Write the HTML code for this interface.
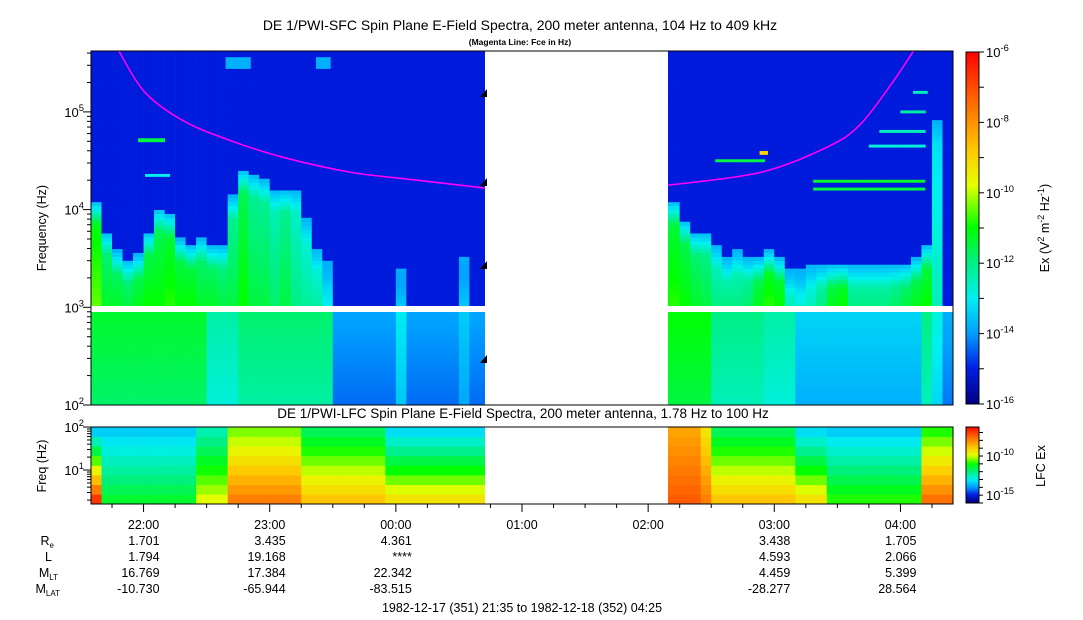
<!DOCTYPE html>
<html><head><meta charset="utf-8">
<style>
html,body{margin:0;padding:0;background:#fff;}
svg{display:block;font-family:"Liberation Sans",Arial,sans-serif;}
</style></head>
<body>
<svg id="chart" width="1083" height="620" viewBox="0 0 1083 620" xmlns="http://www.w3.org/2000/svg">
<defs>
<clipPath id="dataClip"><rect x="91" y="51" width="394" height="354"/><rect x="668" y="51" width="285" height="354"/></clipPath>
<clipPath id="lfcClip"><rect x="91" y="427" width="394" height="77"/><rect x="668" y="427" width="285" height="77"/></clipPath>
<clipPath id="panelClip"><rect x="91" y="51" width="862" height="254"/></clipPath>
</defs>
<text x="520" y="30" font-size="14" text-anchor="middle">DE 1/PWI-SFC  Spin Plane E-Field Spectra, 200 meter antenna, 104 Hz to 409 kHz</text>
<text x="520" y="45" font-size="8.5" font-weight="bold" text-anchor="middle">(Magenta Line: Fce in Hz)</text>
<text x="523" y="418" font-size="13.5" text-anchor="middle">DE 1/PWI-LFC  Spin Plane E-Field Spectra, 200 meter antenna, 1.78 Hz to 100 Hz</text>
<g id="sfcCells" clip-path="url(#dataClip)"></g>
<g id="lfcCells" clip-path="url(#lfcClip)"></g>
<rect x="91" y="306" width="862" height="6" fill="#fff"/>
<path id="fceLine" fill="none" stroke="#ff00ff" stroke-width="1.6" clip-path="url(#panelClip)"/>
<g id="markers"></g>
<rect x="91" y="51" width="862" height="354" fill="none" stroke="#000" stroke-width="1"/>
<rect x="91" y="427" width="862" height="77" fill="none" stroke="#000" stroke-width="1"/>
<g id="axes" font-size="13"></g>
<text transform="translate(46,228) rotate(-90)" font-size="12.5" text-anchor="middle">Frequency (Hz)</text>
<text transform="translate(46,466) rotate(-90)" font-size="12.5" text-anchor="middle">Freq (Hz)</text>
<g id="cbar"></g>
<text transform="translate(1049,228) rotate(-90)" font-size="12.5" text-anchor="middle">Ex (V<tspan dy="-5" font-size="9">2</tspan><tspan dy="5"> m</tspan><tspan dy="-5" font-size="9">-2</tspan><tspan dy="5"> Hz</tspan><tspan dy="-5" font-size="9">-1</tspan><tspan dy="5">)</tspan></text>
<text transform="translate(1045,466) rotate(-90)" font-size="12.5" text-anchor="middle">LFC Ex</text>
<g id="ephem" font-size="12.5"></g>
<text x="522" y="612" font-size="12.5" text-anchor="middle">1982-12-17 (351) 21:35 to 1982-12-18 (352) 04:25</text>
</svg>
<script>
// ---- data (5-minute bins from 21:35, 82 bins; null = no data) ----
const sfcTop = [4.07,3.76,3.57,3.48,3.53,3.76,4.0,3.95,3.69,3.63,3.7,3.63,3.63,4.13,4.4,4.35,4.3,4.2,4.2,4.2,3.9,3.6,3.45,3.0,3.0,3.0,3.0,3.0,3.0,3.38,3.0,3.0,3.0,3.0,3.0,3.5,3.0,3.0,
 null,null,null,null,null,null,null,null,null,null,null,null,null,null,null,null,
 4.07,4.07,3.88,3.76,3.76,3.63,3.5,3.57,3.5,3.5,3.57,3.5,3.38,3.38,3.44,3.44,3.44,3.44,3.44,3.44,3.44,3.44,3.44,3.44,3.5,3.63,4.9,3.0];
const sfcLevel = [-10.5,-11.3,-11.3,-11.5,-11.2,-11,-11,-10.8,-11,-11,-11.3,-11.3,-11.5,-11.5,-11,-11.5,-11.5,-11.8,-11.5,-12,-12.2,-12.3,-13,-14.6,-14.6,-14.6,-14.6,-14.6,-14.6,-13.5,-14.6,-14.6,-14.6,-14.6,-14.6,-13.5,-14.6,-14.6,
 null,null,null,null,null,null,null,null,null,null,null,null,null,null,null,null,
 -11,-10.8,-11,-11.3,-11.5,-12,-12,-12,-11.8,-11.2,-10.8,-11,-12.5,-12.8,-12.5,-12,-11.2,-11,-12,-12,-12,-12,-11.8,-11.5,-11.2,-11,-12.5,-14.7];
const vlfLevel = [-11.3,-11.3,-11.3,-11.3,-11.3,-11.3,-11.3,-11.3,-11.3,-11.3,-11.3,-12.3,-12.3,-12.3,-11.8,-11.8,-11.8,-11.8,-11.8,-11.8,-11.8,-11.8,-11.8,-13.9,-13.9,-13.9,-13.9,-13.9,-13.9,-13,-13.9,-13.9,-13.9,-13.9,-13.9,-13.4,-13.9,-13.9,
 null,null,null,null,null,null,null,null,null,null,null,null,null,null,null,null,
 -11,-11,-11,-11,-11,-12,-12,-12,-12,-12,-12.3,-12.3,-12.3,-13.3,-13.3,-13.3,-13.3,-13.3,-13.3,-13.3,-13.3,-13.3,-13.3,-13.3,-13.3,-12,-12.8,-13.8];
const lfcTopLevel = [-13.5,-13.5,-13.5,-13.5,-13.5,-13.5,-13.5,-13.5,-13.5,-13.5,-12.5,-12.5,-12.5,-10.5,-10.5,-10.5,-10.5,-10.5,-10.5,-10.5,-11.8,-11.8,-11.8,-11.8,-11.8,-11.8,-11.8,-11.8,-13.3,-13.3,-13.3,-13.3,-13.3,-13.3,-13.3,-13.3,-13.3,-13.3,
 null,null,null,null,null,null,null,null,null,null,null,null,null,null,null,null,
 -8.5,-8.5,-8.5,-8.5,-9.5,-11.8,-11.8,-11.8,-11.8,-11.8,-11.8,-11.8,-11.8,-13.3,-13.3,-13.3,-13.5,-13.5,-13.5,-13.5,-13.5,-13.5,-13.5,-13.5,-13.5,-11,-11,-11];
const lfcBottomLevel = [-7,-11.5,-11.5,-11.5,-11.5,-11.5,-11.5,-11.5,-11.5,-11.5,-10,-10,-10,-8,-8,-8,-8,-8,-8,-8,-9,-9,-9,-9,-9,-9,-9,-9,-9.5,-9.5,-9.5,-9.5,-9.5,-9.5,-9.5,-9.5,-9.5,-9.5,
 null,null,null,null,null,null,null,null,null,null,null,null,null,null,null,null,
 -7.5,-7.5,-7.5,-7.5,-8,-9,-9,-9,-9,-9,-9,-9,-9,-9.5,-9.5,-9.5,-11,-11,-11,-11,-11,-11,-11,-11,-11,-7.8,-7.8,-7.8];
// narrowband features: start/end minutes, log10 freq, bandwidth (decades), level
const featStart = [22.4,25.7,64,107,343.5,343.5,296.9,318,391,385,375,370];
const featEnd   = [35.2,37.6,76,114,396.8,396.8,320.6,322,398,397,397,397];
const featFreq  = [4.71,4.35,5.5,5.5,4.29,4.21,4.5,4.58,5.2,5.0,4.8,4.65];
const featBand  = [0.04,0.03,0.12,0.12,0.03,0.03,0.03,0.04,0.03,0.03,0.03,0.03];
const featLevel = [-11.5,-13,-13.8,-13.8,-11.3,-11.5,-11.5,-9,-12.5,-12.3,-12.5,-12.8];
// electron gyrofrequency (minutes since 21:35, log10 Hz)
const fceLeftMin = [13.3,25.7,44.7,68.5,92.3,124.2,155.6,187.4];
const fceLeftLog = [5.62,5.2,4.9,4.69,4.53,4.38,4.3,4.22];
const fceRightMin = [274.5,318.3,350.1,365.8,381.5,391.1];
const fceRightLog = [4.25,4.38,4.64,4.87,5.31,5.62];
// axis / ephemeris labels
const hourLabels = ["22:00","23:00","00:00","01:00","02:00","03:00","04:00"];
const hourMinutes = [25,85,145,205,265,325,385];
const ephemHours = [0,1,2,5,6];
const ephemRe = ["1.701","3.435","4.361","3.438","1.705"];
const ephemL = ["1.794","19.168","****","4.593","2.066"];
const ephemMLT = ["16.769","17.384","22.342","4.459","5.399"];
const ephemMLAT = ["-10.730","-65.944","-83.515","-28.277","28.564"];
const cbarLabels = [-16,-14,-12,-10,-8,-6];
const lfcCbarLabels = [-15,-10];

const NS="http://www.w3.org/2000/svg";
const TOTAL=410, X0=91, W=862;
function xT(m){return X0+m*W/TOTAL;}
function yF(l){return 405-(l-2)*97.7;}
function yL(l){return 504-(l-0.21)*43;}
const VMIN=-16, VMAX=-6;
const stops=[[0,0,0,130],[0.1,0,30,230],[0.2,0,160,255],[0.3,0,240,240],[0.4,0,240,130],[0.5,0,255,0],[0.62,230,255,0],[0.72,255,200,0],[0.85,255,110,0],[1,255,0,0]];
function cmap(v,lo,hi){lo=lo===undefined?VMIN:lo;hi=hi===undefined?VMAX:hi;
 let t=(v-lo)/(hi-lo);t=Math.max(0,Math.min(1,t));
 for(let i=1;i<stops.length;i++){if(t<=stops[i][0]){const a=stops[i-1],b=stops[i];const f=(t-a[0])/(b[0]-a[0]);
  return `rgb(${Math.round(a[1]+f*(b[1]-a[1]))},${Math.round(a[2]+f*(b[2]-a[2]))},${Math.round(a[3]+f*(b[3]-a[3]))})`;}}
 return "rgb(255,0,0)";}
function mk(tag,attrs,parent){const e=document.createElementNS(NS,tag);for(const k in attrs)e.setAttribute(k,attrs[k]);parent.appendChild(e);return e;}

const sfcG=document.getElementById('sfcCells');
const STEP=0.04;
for(let i=0;i<sfcTop.length;i++){
 if(sfcTop[i]===null)continue;
 const x0=xT(5*i),x1=xT(5*i+5);
 const top=sfcTop[i],lvl=sfcLevel[i];
 for(let f=3.0;f<5.62;f+=STEP){
  let v=-15.1;
  if(f<top){
   const frac=(f-3)/Math.max(0.01,top-3);
   v=lvl-0.8*frac;
   if(top-f<0.25){const g=(top-f)/0.25;v=-13.8*(1-g)+v*g;}
  }
  const r=mk('rect',{x:x0.toFixed(2),y:yF(f+STEP).toFixed(2),width:(x1-x0+0.3).toFixed(2),height:(STEP*97.7+0.4).toFixed(2),fill:cmap(v)},sfcG);
  
  
 }
 for(let f=2.0;f<3.0;f+=STEP){
  const v=vlfLevel[i]-0.5*(1-(f-2));
  const r=mk('rect',{x:x0.toFixed(2),y:yF(f+STEP).toFixed(2),width:(x1-x0+0.3).toFixed(2),height:(STEP*97.7+0.4).toFixed(2),fill:cmap(v)},sfcG);
  
  
 }
}
for(let k=0;k<featStart.length;k++){
 const r=mk('rect',{x:xT(featStart[k]).toFixed(2),y:yF(featFreq[k]+featBand[k]/2).toFixed(2),width:(xT(featEnd[k])-xT(featStart[k])).toFixed(2),height:(featBand[k]*97.7).toFixed(2),fill:cmap(featLevel[k])},sfcG);
 
 
}
const lfcG=document.getElementById('lfcCells');
const LROWS=8,LLO=0.21,LHI=2.0;
for(let i=0;i<lfcTopLevel.length;i++){
 if(lfcTopLevel[i]===null)continue;
 const x0=xT(5*i),x1=xT(5*i+5);
 for(let r=0;r<LROWS;r++){
  const f0=LLO+(LHI-LLO)*r/LROWS,f1=LLO+(LHI-LLO)*(r+1)/LROWS;
  const fr=r/(LROWS-1);
  const v=lfcBottomLevel[i]+(lfcTopLevel[i]-lfcBottomLevel[i])*fr;
  const c=mk('rect',{x:x0.toFixed(2),y:yL(f1).toFixed(2),width:(x1-x0+0.3).toFixed(2),height:(yL(f0)-yL(f1)+0.3).toFixed(2),fill:cmap(v,-16,-6.3)},lfcG);
  
  
 }
}
// fce line (smooth Catmull-Rom through points)
function seg(ms,ls){
 const P=ms.map((m,j)=>[xT(m),yF(ls[j])]);
 let d='M'+P[0][0].toFixed(1)+','+P[0][1].toFixed(1);
 for(let j=0;j<P.length-1;j++){
  const p0=P[Math.max(0,j-1)],p1=P[j],p2=P[j+1],p3=P[Math.min(P.length-1,j+2)];
  const c1=[p1[0]+(p2[0]-p0[0])/6,p1[1]+(p2[1]-p0[1])/6];
  const c2=[p2[0]-(p3[0]-p1[0])/6,p2[1]-(p3[1]-p1[1])/6];
  d+=' C'+c1[0].toFixed(1)+','+c1[1].toFixed(1)+' '+c2[0].toFixed(1)+','+c2[1].toFixed(1)+' '+p2[0].toFixed(1)+','+p2[1].toFixed(1);
 }
 return d;}
document.getElementById('fceLine').setAttribute('d',seg(fceLeftMin,fceLeftLog)+' '+seg(fceRightMin,fceRightLog));
// markers
const mG=document.getElementById('markers');
[93,182,265,359].forEach(y=>{const p=mk('path',{d:`M480,${y+4} L487,${y-4} L487,${y+4} Z`,fill:'#000'},mG);
 
 });
// axes
const ax=document.getElementById('axes');
function line(x1,y1,x2,y2,p){return mk('line',{x1,y1,x2,y2,stroke:'#000','stroke-width':1},p);}
function powLabel(x,y,exp,p,anchor,size){const t=mk('text',{x,y,'text-anchor':anchor||'end','font-size':size||13},p);
 t.appendChild(document.createTextNode('10'));const s=mk('tspan',{dy:-6,'font-size':(size||13)*0.72},t);s.textContent=exp;return t;}
for(let d=2;d<=5;d++){
 line(83,yF(d),91,yF(d),ax);
 const t=powLabel(84,yF(d)+5,String(d),ax);
 for(let k=2;k<=9;k++){const l=d+Math.log10(k);if(l<=5.62)line(87,yF(l),91,yF(l),ax);}
}
for(let d=0;d<=2;d++){
 if(d>=1){line(83,yL(d),91,yL(d),ax);const t=powLabel(84,yL(d)+5,String(d),ax);}
 for(let k=2;k<=9;k++){const l=d+Math.log10(k);if(l>=0.21&&l<=2)line(87,yL(l),91,yL(l),ax);}
}
for(let m=10;m<=TOTAL;m+=15){const x=xT(m);line(x,504,x,(m-25)%60===0?512:508,ax);}
hourLabels.forEach((h,j)=>{const t=mk('text',{x:xT(hourMinutes[j]),y:529,'text-anchor':'middle','font-size':12.5},ax);t.textContent=h;
 });
// colorbars
const cb=document.getElementById('cbar');
for(let k=0;k<176;k++){const t0=k/176;const y=404-(k+1)*2;
 const r=mk('rect',{x:966,y:y,width:13,height:2.3,fill:cmap(VMIN+t0*(VMAX-VMIN))},cb);
 }
mk('rect',{x:966,y:52,width:13,height:352,fill:'none',stroke:'#000'},cb);
for(let e=-16;e<=-6;e++){const y=404-(e+16)*35.2;line(979,y,984,y,cb);}
cbarLabels.forEach(e=>{const y=404-(e+16)*35.2;const t=powLabel(986,y+5,String(e),cb,'start',13);
 });
for(let k=0;k<38;k++){const y=503-(k+1)*2;
 const r=mk('rect',{x:966,y:y,width:13,height:2.3,fill:cmap(-16+(k/38)*9.7,-16,-6.3)},cb);
 }
mk('rect',{x:966,y:427,width:13,height:76,fill:'none',stroke:'#000'},cb);
for(let e=-16;e<=-7;e++){const y=503-(e+16)*7.83;line(979,y,983,y,cb);}
lfcCbarLabels.forEach(e=>{const y=503-(e+16)*7.83;const t=powLabel(986,y+5,String(e),cb,'start',13);
 });
// ephemeris
const eg=document.getElementById('ephem');
const rowY=[545,561,577,593];
const subs=[["R","e"],["L",""],["M","LT"],["M","LAT"]];
subs.forEach((s,j)=>{const t=mk('text',{x:s[1]==="LAT"?60:(s[1]===""?52:(s[1]==="LT"?58:54)),y:rowY[j],'text-anchor':'end'},eg);
 
 t.appendChild(document.createTextNode(s[0]));if(s[1]){const sp=mk('tspan',{dy:3,'font-size':8},t);sp.textContent=s[1];}});
const cols=[ephemRe,ephemL,ephemMLT,ephemMLAT];
ephemHours.forEach((h,k)=>{const x=xT(hourMinutes[h])+16;
 cols.forEach((c,j)=>{const t=mk('text',{x:x,y:rowY[j],'text-anchor':'end'},eg);t.textContent=c[k];
  });});
</script>
</body></html>
